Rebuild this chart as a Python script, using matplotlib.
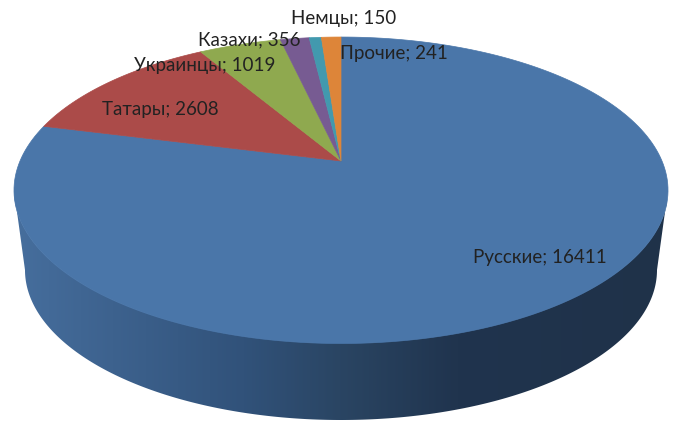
import numpy as np
import matplotlib
matplotlib.use("Agg")
import matplotlib.pyplot as plt
from matplotlib.colors import LinearSegmentedColormap
from matplotlib.patches import Polygon

# Data
names = ["Русские", "Татары", "Украинцы", "Казахи", "Немцы", "Прочие"]
values = [16411, 2608, 1019, 356, 150, 241]
colors = ["#4a76a9", "#ab4b49", "#8fa94f", "#775b92", "#4299ae", "#dd8539"]

# label left edge / middle, in pixels
label_x = [473, 102, 134, 198, 291, 340]
label_y = [257.5, 109.5, 65.5, 39.5, 18.5, 53.5]

plt.rcParams['font.family'] = ['Lato', 'Noto Sans', 'DejaVu Sans']

fig = plt.figure(figsize=(6.8, 4.37), dpi=100)
ax = fig.add_axes([0, 0, 1, 1])

# flat circle -> screen, perspective tilt
def project(u, v):
    w = 1 + 0.191 * v
    return 341 + 321 * u / w, (161 - 116.9 * v) / w

# side wall with a left to right shade
t = np.linspace(np.pi, 2 * np.pi, 300)
top_x = 341 + 327 * np.cos(t)
top_y = 190 - 153 * np.sin(t)
low_x = 341 + 316 * np.cos(t)
low_y = 270 - 150 * np.sin(t)
wall = np.column_stack([np.r_[top_x, low_x[::-1]], np.r_[top_y, low_y[::-1]]])
patch = Polygon(wall, closed=True, fc='none', ec='none')
ax.add_patch(patch)

shade = LinearSegmentedColormap.from_list("wall", [
    (0.0, "#466e9d"), (0.35, "#31527a"), (0.5, "#2a4563"),
    (0.68, "#20344e"), (1.0, "#1f3249")])
im = ax.imshow(np.linspace(0, 1, 340).reshape(1, -1), cmap=shade, aspect='auto',
               extent=[14, 667, 420, 190], interpolation='bilinear', zorder=1)
im.set_clip_path(patch)

# top face, clockwise from 12 o'clock
edges = np.r_[0, np.cumsum(values)] / sum(values) * 2 * np.pi
for i in range(len(values)):
    a = np.linspace(edges[i], edges[i + 1], 200)
    x, y = project(np.sin(a), np.cos(a))
    x0, y0 = project(0, 0)
    # thin same colour edge hides the seams between slices
    ax.fill(np.r_[x0, x], np.r_[y0, y], fc=colors[i], ec=colors[i], lw=0.5, zorder=2)

for i in range(len(values)):
    ax.text(label_x[i], label_y[i], f"{names[i]}; {values[i]}", fontsize=13.5,
            color="#222222", ha='left', va='center', zorder=3)

ax.set_xlim(0, 680)
ax.set_ylim(437, 0)
ax.axis('off')

fig.savefig("out.png", dpi=100)
